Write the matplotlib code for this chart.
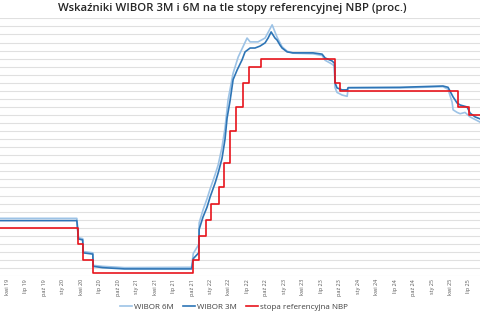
import matplotlib
matplotlib.use("Agg")
import matplotlib.pyplot as plt
import numpy as np
import pandas as pd

plt.rcParams['font.family'] = ['Open Sans', 'DejaVu Sans']

# stopa referencyjna NBP (daty zmian)
nbp_dates = ['2019-02-24', '2020-03-18', '2020-04-09', '2020-05-29', '2021-10-07',
             '2021-11-04', '2021-12-09', '2022-01-05', '2022-02-09', '2022-03-09',
             '2022-04-07', '2022-05-06', '2022-06-09', '2022-07-08', '2022-09-08',
             '2023-09-07', '2023-10-05', '2025-05-08', '2025-07-03', '2025-08-25']
nbp_rate = [1.5, 1.0, 0.5, 0.1, 0.5, 1.25, 1.75, 2.25, 2.75, 3.5,
            4.5, 5.25, 6.0, 6.5, 6.75, 6.0, 5.75, 5.25, 5.0, 5.0]

# WIBOR 3M
w3_dates = ['2019-02-24', '2020-03-10', '2020-03-18', '2020-04-08', '2020-04-10',
            '2020-05-28', '2020-05-30', '2020-07-15', '2020-11-01', '2021-09-28',
            '2021-10-01', '2021-10-07', '2021-11-03', '2021-11-05', '2021-11-24',
            '2021-12-14', '2021-12-29', '2022-01-23', '2022-02-07', '2022-02-26',
            '2022-03-13', '2022-03-23', '2022-04-07', '2022-04-22', '2022-05-12',
            '2022-06-05', '2022-06-20', '2022-07-15', '2022-08-08', '2022-09-02',
            '2022-09-27', '2022-10-12', '2022-10-27', '2022-11-15', '2022-11-25',
            '2022-12-10', '2022-12-20', '2023-01-14', '2023-02-12', '2023-05-22',
            '2023-07-06', '2023-07-21', '2023-08-24', '2023-09-05', '2023-09-08',
            '2023-09-18', '2023-10-13', '2023-11-07', '2023-11-12', '2024-07-26',
            '2025-02-23', '2025-03-20', '2025-04-09', '2025-04-14', '2025-05-04',
            '2025-05-19', '2025-06-22', '2025-07-07', '2025-08-01', '2025-08-25']
w3 = [1.72, 1.72, 1.15, 1.12, 0.72, 0.68, 0.30, 0.26, 0.22, 0.22,
      0.30, 0.54, 0.72, 1.45, 1.83, 2.14, 2.45, 2.89, 3.20, 3.65,
      4.25, 4.90, 5.45, 6.10, 6.40, 6.71, 6.96, 7.08, 7.08, 7.14,
      7.24, 7.39, 7.58, 7.39, 7.33, 7.17, 7.08, 6.96, 6.93, 6.93,
      6.89, 6.77, 6.68, 6.61, 6.00, 5.84, 5.78, 5.78, 5.85, 5.86,
      5.90, 5.86, 5.62, 5.56, 5.37, 5.31, 5.25, 5.06, 4.94, 4.88]

# WIBOR 6M
w6_dates = ['2019-02-24', '2020-03-10', '2020-03-18', '2020-04-08', '2020-04-10',
            '2020-05-28', '2020-05-30', '2020-07-15', '2020-11-01', '2021-09-28',
            '2021-10-01', '2021-10-07', '2021-11-03', '2021-11-05', '2021-11-24',
            '2021-12-14', '2021-12-29', '2022-01-23', '2022-02-07', '2022-02-26',
            '2022-03-13', '2022-03-28', '2022-04-22', '2022-05-17', '2022-06-30',
            '2022-07-15', '2022-08-23', '2022-09-27', '2022-11-01', '2022-11-25',
            '2022-12-20', '2023-01-14', '2023-02-12', '2023-05-22', '2023-07-06',
            '2023-07-21', '2023-08-24', '2023-09-05', '2023-09-08', '2023-09-18',
            '2023-10-13', '2023-11-07', '2023-11-12', '2024-07-26', '2025-02-23',
            '2025-03-20', '2025-04-09', '2025-04-14', '2025-05-04', '2025-05-19',
            '2025-06-12', '2025-07-07', '2025-08-25']
w6 = [1.79, 1.79, 1.19, 1.16, 0.76, 0.72, 0.33, 0.30, 0.26, 0.27,
      0.40, 0.70, 0.98, 1.65, 2.05, 2.40, 2.70, 3.15, 3.45, 4.00,
      4.60, 5.47, 6.30, 6.80, 7.39, 7.27, 7.27, 7.39, 7.80, 7.42,
      7.12, 6.98, 6.92, 6.90, 6.85, 6.70, 6.58, 6.52, 5.85, 5.70,
      5.62, 5.58, 5.84, 5.84, 5.88, 5.80, 5.40, 5.16, 5.08, 5.04,
      5.08, 4.94, 4.78]

months_pl = {1: 'sty', 4: 'kwi', 7: 'lip', 10: 'paź'}
tick_dates = pd.date_range('2019-04-01', '2025-07-01', freq='QS')
tick_labels = [f"{months_pl[d.month]} {d.year % 100:02d}" for d in tick_dates]

fig = plt.figure(figsize=(4.8, 3.2), dpi=100)
ax = fig.add_axes([0.0, 0.1375, 1.0, 0.805])

ax.plot(pd.to_datetime(w6_dates), w6, color='#9DC3E6', lw=1.2, label='WIBOR 6M')
ax.plot(pd.to_datetime(w3_dates), w3, color='#2E75B6', lw=1.2, label='WIBOR 3M')
ax.plot(pd.to_datetime(nbp_dates), nbp_rate, color='#E8141C', lw=1.2,
        drawstyle='steps-post', label='stopa referencyjna NBP')

ax.set_xlim(pd.Timestamp('2019-02-24'), pd.Timestamp('2025-08-25'))
ax.set_ylim(0, 8)
ax.set_yticks(np.arange(0, 8.01, 0.25))
ax.yaxis.grid(True, color='#E0E0E0', lw=0.8)
ax.set_axisbelow(True)
ax.tick_params(axis='y', left=False, labelleft=False)
ax.set_xticks(tick_dates)
ax.set_xticklabels(tick_labels, rotation=90, fontsize=4.0, color='#595959')
ax.tick_params(axis='x', length=0, pad=2)
for s in ax.spines.values():
    s.set_visible(False)

fig.text(232 / 480, 1 - 8 / 320, 'Wskaźniki WIBOR 3M i 6M na tle stopy referencyjnej NBP (proc.)',
         ha='center', va='center', fontsize=8.2, color='#262626', fontweight='semibold')

fig.legend(loc='center', bbox_to_anchor=(234 / 480, 1 - 307 / 320), ncol=3, frameon=False,
           fontsize=5.8, handlelength=1.5, handletextpad=0.2, columnspacing=1.2,
           labelcolor='#404040')

fig.savefig('out.png', dpi=100)
